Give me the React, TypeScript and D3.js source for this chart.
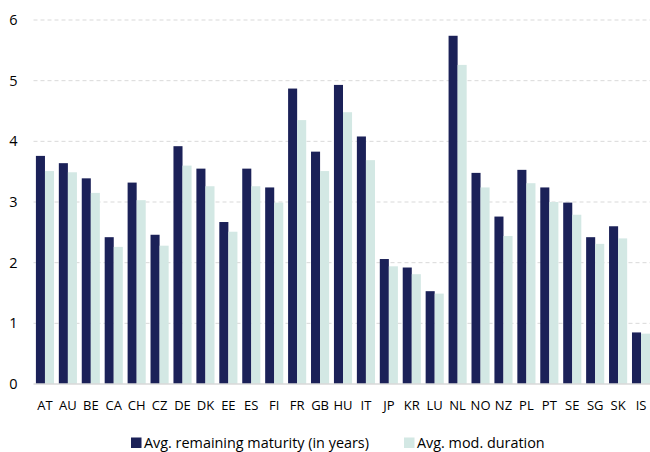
import React, { useEffect, useRef } from 'react';
import * as d3 from 'd3';

const countries = ['AT', 'AU', 'BE', 'CA', 'CH', 'CZ', 'DE', 'DK', 'EE', 'ES', 'FI', 'FR', 'GB', 'HU', 'IT', 'JP', 'KR', 'LU', 'NL', 'NO', 'NZ', 'PL', 'PT', 'SE', 'SG', 'SK', 'IS'];
const maturity = [3.76, 3.64, 3.39, 2.42, 3.32, 2.46, 3.92, 3.55, 2.67, 3.55, 3.24, 4.87, 3.83, 4.93, 4.08, 2.06, 1.92, 1.53, 5.74, 3.48, 2.76, 3.53, 3.24, 2.99, 2.42, 2.60, 0.85];
const duration = [3.51, 3.49, 3.15, 2.26, 3.03, 2.28, 3.60, 3.26, 2.51, 3.26, 2.99, 4.35, 3.51, 4.48, 3.69, 1.94, 1.81, 1.49, 5.26, 3.24, 2.44, 3.31, 3.00, 2.79, 2.31, 2.40, 0.83];
const yTicks = [0, 1, 2, 3, 4, 5, 6];
const seriesNames = ['Avg. remaining maturity (in years)', 'Avg. mod. duration'];
const colors = ['#1b2158', '#d3e8e4'];

function App() {
    const svgRef = useRef<SVGSVGElement>(null);

    useEffect(() => {
        const width = 650;
        const height = 452;
        const margin = { top: 20, left: 33.5, right: -2.5, bottom: 68 };
        const font = '"Open Sans", Lato, sans-serif';

        const svg = d3.select(svgRef.current);
        svg.selectAll('*').remove();
        svg.attr('width', width).attr('height', height);

        // scales
        const x = d3.scaleBand()
            .domain(countries)
            .range([margin.left, width - margin.right])
            .paddingInner(0.21)
            .paddingOuter(0.105);
        const xInner = d3.scaleBand()
            .domain(['0', '1'])
            .range([0, x.bandwidth()]);
        const y = d3.scaleLinear()
            .domain([0, 6])
            .range([height - margin.bottom, margin.top]);

        // gridlines
        svg.append('g')
            .selectAll('line')
            .data(yTicks.filter(t => t > 0))
            .enter()
            .append('line')
            .attr('x1', margin.left)
            .attr('x2', width)
            .attr('y1', d => y(d))
            .attr('y2', d => y(d))
            .attr('stroke', '#d9d9d9')
            .attr('stroke-width', 1)
            .attr('stroke-dasharray', '4,3');

        // y tick labels
        svg.append('g')
            .selectAll('text')
            .data(yTicks)
            .enter()
            .append('text')
            .attr('x', 17.5)
            .attr('y', d => y(d))
            .attr('dy', '0.35em')
            .attr('text-anchor', 'end')
            .style('font-family', font)
            .style('font-size', '14.5px')
            .style('fill', '#000')
            .text(d => d);

        // bars
        const series = [maturity, duration];
        series.forEach((vals, si) => {
            svg.append('g')
                .selectAll('rect')
                .data(vals)
                .enter()
                .append('rect')
                .attr('x', (d, i) => (x(countries[i]) ?? 0) + (xInner(String(si)) ?? 0))
                .attr('y', d => y(d))
                .attr('width', xInner.bandwidth())
                .attr('height', d => y(0) - y(d))
                .attr('fill', colors[si]);
        });

        // zero line
        svg.append('line')
            .attr('x1', margin.left)
            .attr('x2', width)
            .attr('y1', y(0))
            .attr('y2', y(0))
            .attr('stroke', '#d9d9d9')
            .attr('stroke-width', 1.5);

        // x labels
        svg.append('g')
            .selectAll('text')
            .data(countries)
            .enter()
            .append('text')
            .attr('x', d => (x(d) ?? 0) + x.bandwidth() / 2)
            .attr('y', y(0) + 21)
            .attr('dy', '0.35em')
            .attr('text-anchor', 'middle')
            .style('font-family', font)
            .style('font-size', '13px')
            .style('fill', '#000')
            .text(d => d);

        // legend
        const legendX = [131, 404];
        const legend = svg.append('g');
        seriesNames.forEach((name, i) => {
            legend.append('rect')
                .attr('x', legendX[i])
                .attr('y', 437.5)
                .attr('width', 10.5)
                .attr('height', 10.5)
                .attr('fill', colors[i]);
            legend.append('text')
                .attr('x', legendX[i] + 13)
                .attr('y', 442.5)
                .attr('dy', '0.35em')
                .style('font-family', font)
                .style('font-size', '14.4px')
                .style('fill', '#000')
                .text(name);
        });
    }, []);

    return (
        <svg ref={svgRef} style={{ position: 'absolute', left: 0, top: 0, background: '#fff' }}></svg>
    );
}

export default App;
